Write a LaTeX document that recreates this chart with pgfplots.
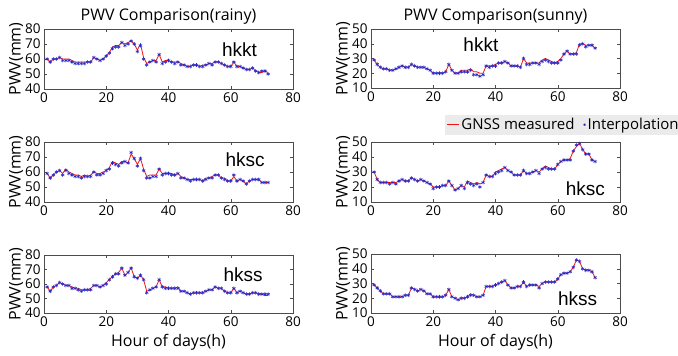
\documentclass[border=0pt]{standalone}
\usepackage{fontspec}
\setmainfont{Open Sans}
\newfontfamily\hkfont{Liberation Sans}
\usepackage{pgfplots}
\usepackage{pgfplotstable}
\pgfplotsset{compat=1.18}

\pgfplotstableread{
x g i
1 60 60
2 58 58
3 60 60
4 60 60
5 61 61
6 60 59
7 60 59
8 60 59
9 59 58
10 58 57
11 58 57
12 58 57
13 58 57
14 58 58
15 58 58
16 61 61
17 60 60
18 59 59
19 60 60
20 62 62
21 64 64
22 68 67
23 69 68
24 69 68
25 71 71
26 70 69
27 71 70
28 72 72
29 70 70
30 66 65
31 70 69
32 61 60
33 57 56
34 58 58
35 59 59
36 59 58
37 63 63
38 58 57
39 59 58
40 59 59
41 58 58
42 58 57
43 58 58
44 57 56
45 56 56
46 55 55
47 55 55
48 56 56
49 56 56
50 55 55
51 56 55
52 56 56
53 57 57
54 57 56
55 58 58
56 58 58
57 57 57
58 56 56
59 55 55
60 55 55
61 58 58
62 55 55
63 55 55
64 54 54
65 53 53
66 53 53
67 54 54
68 52 52
69 51 51
70 51 52
71 52 52
72 51 50
}\rkkt

\pgfplotstableread{
x g i
1 59 59
2 56 56
3 58 58
4 60 60
5 61 61
6 59 58
7 62 61
8 60 59
9 59 58
10 58 57
11 58 57
12 57 56
13 58 57
14 57 57
15 58 57
16 60 60
17 59 58
18 59 58
19 60 59
20 61 61
21 63 62
22 67 66
23 66 65
24 65 64
25 67 66
26 67 67
27 66 66
28 72 73
29 69 69
30 65 64
31 69 69
32 62 61
33 57 56
34 58 56
35 58 57
36 58 57
37 62 62
38 59 58
39 59 59
40 59 59
41 59 58
42 58 58
43 59 59
44 57 56
45 56 56
46 55 55
47 55 54
48 55 55
49 55 55
50 55 55
51 54 54
52 56 55
53 56 56
54 57 56
55 58 58
56 58 58
57 56 56
58 56 55
59 54 54
60 54 54
61 57 58
62 54 54
63 55 55
64 54 54
65 52 52
66 54 54
67 55 55
68 55 55
69 55 55
70 53 53
71 53 53
72 53 53
}\rksc

\pgfplotstableread{
x g i
1 58 58
2 55 55
3 58 58
4 59 59
5 61 61
6 60 60
7 59 59
8 59 59
9 58 57
10 57 57
11 57 56
12 56 55
13 56 56
14 56 56
15 57 56
16 59 59
17 59 59
18 58 58
19 59 59
20 61 60
21 63 63
22 65 65
23 67 67
24 68 67
25 71 71
26 66 66
27 68 68
28 71 71
29 65 65
30 64 64
31 66 66
32 63 63
33 55 54
34 56 56
35 57 57
36 58 58
37 63 63
38 58 58
39 58 57
40 57 57
41 57 57
42 57 57
43 58 57
44 55 55
45 55 55
46 54 54
47 53 53
48 54 54
49 54 54
50 54 54
51 54 54
52 55 55
53 56 56
54 56 56
55 58 58
56 57 57
57 57 57
58 55 55
59 54 54
60 54 54
61 57 57
62 54 54
63 55 55
64 54 54
65 53 53
66 53 53
67 54 54
68 54 54
69 53 53
70 53 53
71 52 53
72 52 53
}\rkss

\pgfplotstableread{
x g i
1 29 29
2 26 26
3 24 24
4 23 23
5 23 23
6 22 22
7 22 22
8 23 23
9 24 24
10 25 25
11 24 24
12 24 24
13 26 26
14 25 25
15 24 24
16 24 24
17 24 24
18 23 23
19 22 22
20 20 20
21 20 20
22 20 20
23 20 20
24 21 21
25 26 26
26 22 22
27 20 20
28 20 20
29 22 21
30 22 21
31 22 21
32 23 22
33 21 19
34 21 19
35 20 18
36 20 19
37 25 25
38 25 24
39 25 25
40 26 25
41 27 27
42 27 27
43 28 28
44 27 27
45 25 25
46 25 25
47 25 25
48 24 24
49 30 30
50 27 26
51 27 26
52 27 27
53 27 27
54 27 26
55 29 28
56 30 29
57 29 28
58 28 27
59 27 27
60 28 27
61 30 29
62 33 33
63 35 35
64 33 33
65 33 33
66 34 33
67 40 39
68 40 40
69 39 38
70 39 39
71 39 39
72 37 37
}\skkt

\pgfplotstableread{
x g i
1 30 30
2 25 25
3 23 23
4 23 23
5 23 23
6 23 22
7 23 23
8 23 22
9 24 24
10 25 25
11 24 24
12 24 24
13 26 26
14 25 25
15 24 24
16 25 25
17 24 24
18 23 23
19 22 22
20 20 19
21 20 20
22 20 20
23 21 21
24 21 21
25 24 24
26 21 21
27 18 18
28 19 19
29 21 21
30 20 19
31 24 23
32 23 22
33 22 21
34 23 22
35 22 20
36 23 23
37 28 28
38 27 27
39 27 27
40 30 29
41 31 30
42 32 31
43 33 33
44 31 31
45 30 30
46 28 28
47 28 28
48 28 28
49 31 31
50 29 29
51 29 29
52 30 30
53 31 31
54 30 29
55 32 32
56 34 33
57 33 32
58 32 32
59 32 32
60 35 35
61 37 37
62 38 38
63 38 38
64 39 38
65 44 44
66 47 48
67 49 49
68 45 45
69 42 42
70 42 42
71 38 38
72 37 37
}\sksc

\pgfplotstableread{
x g i
1 29 29
2 27 27
3 25 25
4 23 23
5 23 23
6 23 23
7 21 21
8 21 21
9 21 21
10 21 21
11 22 22
12 22 22
13 27 27
14 26 26
15 25 25
16 26 26
17 25 25
18 23 23
19 23 23
20 21 21
21 21 21
22 21 21
23 21 21
24 22 22
25 26 26
26 21 21
27 20 20
28 19 19
29 20 20
30 20 20
31 21 21
32 23 22
33 22 22
34 21 21
35 21 21
36 22 22
37 28 28
38 28 28
39 28 28
40 29 29
41 30 30
42 31 31
43 32 32
44 29 29
45 27 27
46 27 27
47 28 28
48 28 28
49 31 31
50 28 28
51 29 29
52 29 29
53 29 29
54 28 27
55 30 30
56 31 31
57 31 31
58 31 31
59 31 31
60 33 33
61 36 36
62 37 37
63 37 37
64 38 38
65 41 41
66 46 46
67 45 45
68 40 40
69 39 39
70 39 39
71 38 38
72 34 34
}\skss

\definecolor{gnss}{RGB}{240,20,20}
\definecolor{interp}{RGB}{40,40,200}

\tikzset{hk/.style={font=\hkfont\fontsize{19}{19}\selectfont}}

\pgfplotsset{
  mylinelegend/.style={legend image code/.code={\draw[##1] (0pt,0pt) -- (12pt,0pt);}},
  mydotlegend/.style={legend image code/.code={\draw[##1,mark size=1.2pt] plot coordinates {(1pt,0pt)};}},
  panel/.style={
    scale only axis, width=249pt, height=60pt,
    xmin=0, xmax=80, xtick={0,20,...,80},
    tick align=inside, major tick length=3pt,
    axis line style={black!70}, tick style={black!70},
    /pgf/number format/assume math mode=true,
    tick label style={font=\fontsize{13.5}{13.5}\selectfont},
    label style={font=\fontsize{16}{16}\selectfont},
    title style={font=\fontsize{16}{16}\selectfont, yshift=-5pt},
    ylabel={PWV(mm)}, ylabel shift=-5pt,
    xticklabel style={yshift=-0.5pt},
  },
  rainy/.style={panel, ymin=40, ymax=80, ytick={40,50,...,80}},
  sunny/.style={panel, ymin=10, ymax=50, ytick={10,20,...,50}},
  gnssline/.style={gnss, line width=0.8pt, no markers},
  interpmarks/.style={interp, only marks, mark=asterisk, mark size=1.9pt, mark options={line width=0.55pt}},
}

\begin{document}
\begin{tikzpicture}[x=1pt,y=1pt]
\path[use as bounding box] (0,0) rectangle (678,356);

\begin{axis}[rainy, at={(44pt,267pt)}, anchor=south west, title={PWV Comparison(rainy)}]
\addplot[gnssline] table[x=x,y=g]{\rkkt};
\addplot[interpmarks] table[x=x,y=i]{\rkkt};
\node[hk] at (axis cs:62.8,66) {hkkt};
\end{axis}

\begin{axis}[sunny, at={(371pt,268pt)}, anchor=south west, height=59pt, title={PWV Comparison(sunny)},
  legend columns=2,
  legend style={at={(0.297,-0.45)}, anchor=north west, fill=black!8, draw=none,
    font=\fontsize{15}{15}\selectfont, inner sep=1.5pt,
    /tikz/every even column/.append style={column sep=7pt},
    nodes={inner xsep=2pt}},
  legend cell align=left]
\addplot[gnssline, mylinelegend] table[x=x,y=g]{\skkt};
\addlegendentry{GNSS measured}
\addplot[interpmarks, mydotlegend] table[x=x,y=i]{\skkt};
\addlegendentry{Interpolation}
\node[hk] at (axis cs:35.3,39.2) {hkkt};
\end{axis}

\begin{axis}[rainy, at={(44pt,154pt)}, anchor=south west]
\addplot[gnssline] table[x=x,y=g]{\rksc};
\addplot[interpmarks] table[x=x,y=i]{\rksc};
\node[hk] at (axis cs:64.6,68) {hksc};
\end{axis}

\begin{axis}[sunny, at={(371pt,154pt)}, anchor=south west]
\addplot[gnssline] table[x=x,y=g]{\sksc};
\addplot[interpmarks] table[x=x,y=i]{\sksc};
\node[hk] at (axis cs:68.9,19) {hksc};
\end{axis}

\begin{axis}[rainy, at={(44pt,43pt)}, anchor=south west, height=58pt, xlabel={Hour of days(h)}]
\addplot[gnssline] table[x=x,y=g]{\rkss};
\addplot[interpmarks] table[x=x,y=i]{\rkss};
\node[hk] at (axis cs:64,66.2) {hkss};
\end{axis}

\begin{axis}[sunny, at={(371pt,43pt)}, anchor=south west, height=59pt, xlabel={Hour of days(h)}]
\addplot[gnssline] table[x=x,y=g]{\skss};
\addplot[interpmarks] table[x=x,y=i]{\skss};
\node[hk] at (axis cs:66.4,19.8) {hkss};
\end{axis}
\end{tikzpicture}
\end{document}
